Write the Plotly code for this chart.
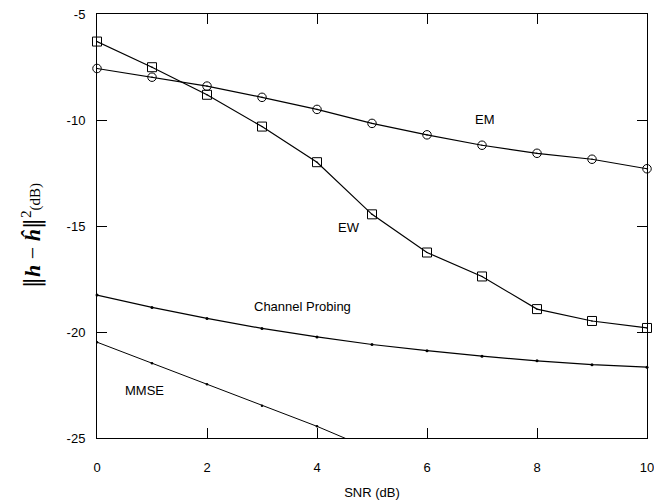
import plotly.graph_objects as go

snr = [0, 1, 2, 3, 4, 5, 6, 7, 8, 9, 10]
ew = [-6.30, -7.51, -8.81, -10.31, -11.99, -14.45, -16.25, -17.38, -18.92, -19.48, -19.81]
em = [-7.57, -7.98, -8.40, -8.93, -9.50, -10.16, -10.70, -11.19, -11.57, -11.85, -12.30]
probing = [-18.26, -18.84, -19.36, -19.83, -20.23, -20.59, -20.88, -21.14, -21.36, -21.54, -21.66]
mmse_x = [0, 1, 2, 3, 4, 5]
mmse = [-20.48, -21.47, -22.47, -23.48, -24.45, -25.55]

labels = ["EM", "EW", "Channel Probing", "MMSE"]
label_x = [7.06, 4.59, 3.74, 0.86]
label_y = [-9.98, -15.08, -18.79, -22.76]

xticks = [0, 2, 4, 6, 8, 10]
yticks = [-25, -20, -15, -10, -5]

fig = go.Figure()
fig.add_trace(go.Scatter(x=snr, y=ew, mode="lines+markers", name="EW",
                         line=dict(color="black", width=1.2),
                         marker=dict(symbol="square-open-dot", size=9, color="black",
                                     line=dict(width=1, color="black")),
                         cliponaxis=False))
fig.add_trace(go.Scatter(x=snr, y=em, mode="lines+markers", name="EM",
                         line=dict(color="black", width=1.2),
                         marker=dict(symbol="circle-open-dot", size=8.5, color="black",
                                     line=dict(width=1, color="black")),
                         cliponaxis=False))
fig.add_trace(go.Scatter(x=snr, y=probing, mode="lines+markers", name="Channel Probing",
                         line=dict(color="black", width=1.2),
                         marker=dict(symbol="circle", size=3, color="black"),
                         cliponaxis=False))
fig.add_trace(go.Scatter(x=mmse_x, y=mmse, mode="lines+markers", name="MMSE",
                         line=dict(color="black", width=1),
                         marker=dict(symbol="circle", size=2.5, color="black")))

for t, x, y in zip(labels, label_x, label_y):
    fig.add_annotation(x=x, y=y, text=t, showarrow=False,
                       font=dict(family="Liberation Sans, Arial, sans-serif", size=13, color="black"))

bars = "<span style=\"font-family:DejaVu Serif\">‖</span>"
fig.add_annotation(xref="paper", yref="paper", x=(31 - 97) / 550, y=(438 - 236) / 424,
                   text=bars + "<b><i>h</i></b> − <b><i>ĥ</i></b>" + bars
                        + "<sup>2</sup><span style=\"font-size:15px\">(dB)</span>",
                   textangle=-90, showarrow=False, xanchor="center", yanchor="middle",
                   font=dict(family="Liberation Serif, Times New Roman, serif", size=22, color="black"))

axis_common = dict(showgrid=False, zeroline=False, showline=True, linecolor="black",
                   linewidth=1, mirror="ticks", ticks="inside", ticklen=10, tickwidth=1,
                   tickcolor="black", ticklabeloverflow="allow", automargin=False,
                   tickfont=dict(family="Liberation Sans, Arial, sans-serif", size=13, color="black"))

fig.update_xaxes(range=[0, 10], tickvals=xticks, ticktext=[str(v) for v in xticks],
                 title=dict(text="SNR (dB)", standoff=14,
                            font=dict(family="Liberation Sans, Arial, sans-serif", size=13, color="black")),
                 ticklabelstandoff=17, **axis_common)
fig.update_yaxes(range=[-25, -5], tickvals=yticks, ticktext=[str(v) for v in yticks],
                 ticklabelstandoff=8, **axis_common)

fig.update_layout(width=654, height=500, showlegend=False,
                  margin=dict(l=97, r=7, t=14, b=62),
                  plot_bgcolor="white", paper_bgcolor="white")

# remove the default page margin so the figure fills the 654x500 window exactly
fig.write_html("out.html", config={"displayModeBar": False},
               post_script="document.body.style.margin='0';document.body.style.overflow='hidden';")
